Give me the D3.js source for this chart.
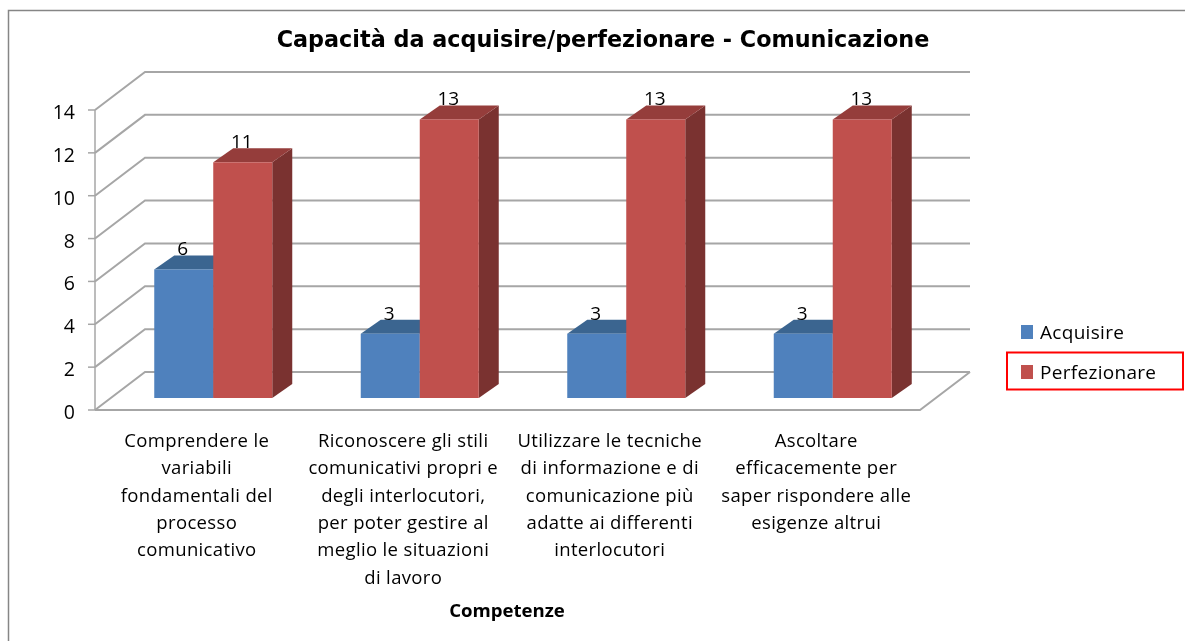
<!DOCTYPE html>
<html><head><meta charset="utf-8"><style>
html,body{margin:0;padding:0;background:#fff;overflow:hidden}
svg{display:block;filter:blur(0.45px)}
text{font-family:"Open Sans",sans-serif;fill:#000}
</style></head><body><svg id="c" width="1185" height="641"></svg>
<script src="https://cdn.jsdelivr.net/npm/d3@7"></script>
<script>
const categories=[
 ["Comprendere le","variabili","fondamentali del","processo","comunicativo"],
 ["Riconoscere gli stili","comunicativi propri e","degli interlocutori,","per poter gestire al","meglio le situazioni","di lavoro"],
 ["Utilizzare le tecniche","di informazione e di","comunicazione più","adatte ai differenti","interlocutori"],
 ["Ascoltare","efficacemente per","saper rispondere alle","esigenze altrui"]];
const seriesNames=["Acquisire","Perfezionare"];
const acquisire=[6,3,3,3];
const perfezionare=[11,13,13,13];
const yTicks=[0,2,4,6,8,10,12,14];
const colors=[["#4f81bd","#3b6590","#3b6590"],["#c0504d","#953d3b","#7a3230"]];
const title="Capacità da acquisire/perfezionare - Comunicazione";
const xTitle="Competenze";

const svg=d3.select("#c");
const y=d3.scaleLinear().domain([0,14]).range([410,110]);
const xi=d3.scaleBand().domain(d3.range(4)).range([110,936]);
const inner=d3.scaleBand().domain([0,1]).range([0,118]);
const wall={dx:50,dy:-38}, left=95,right=920;
const barPlane={dx:15,dy:-12}, depth={dx:20,dy:-14};
const grid="#a6a6a6";

svg.append("rect").attr("x",8.5).attr("y",10.5).attr("width",1200).attr("height",660)
  .attr("fill","#fff").attr("stroke","#868686").attr("stroke-width",1.5);
svg.append("text").attr("x",603).attr("y",47).attr("text-anchor","middle")
  .style("font-family","DejaVu Sans").style("font-weight","bold").style("font-size","22.3px").text(title);

yTicks.forEach(t=>{
  const yy=y(t);
  svg.append("path").attr("fill","none").attr("stroke",grid).attr("stroke-width",2)
    .attr("d",d3.line()([[left,yy],[left+wall.dx,yy+wall.dy],[right+wall.dx,yy+wall.dy]]));
  svg.append("line").attr("x1",left-7).attr("x2",left).attr("y1",yy).attr("y2",yy).attr("stroke",grid).attr("stroke-width",1.5);
  svg.append("text").attr("x",75).attr("y",yy+9).attr("text-anchor","end").style("font-size","19.5px").text(t);
});
svg.append("line").attr("x1",left).attr("x2",left).attr("y1",y(0)).attr("y2",y(14)).attr("stroke",grid).attr("stroke-width",1.5);
svg.append("path").attr("fill","none").attr("stroke",grid).attr("stroke-width",2)
  .attr("d",d3.line()([[left,y(0)],[right,y(0)],[right+wall.dx,y(0)+wall.dy]]));

[acquisire,perfezionare].forEach((vals,s)=>{
  vals.forEach((v,i)=>{
    const x0=xi(i)+xi.bandwidth()/2-59+inner(s), w=inner.bandwidth();
    const top=y(v)+barPlane.dy, base=y(0)+barPlane.dy;
    const g=svg.append("g");
    const line=d3.line();
    g.append("path").attr("fill",colors[s][2]).attr("d",line([[x0+w,top],[x0+w+depth.dx,top+depth.dy],[x0+w+depth.dx,base+depth.dy],[x0+w,base]])+"Z");
    g.append("path").attr("fill",colors[s][1]).attr("d",line([[x0,top],[x0+depth.dx,top+depth.dy],[x0+w+depth.dx,top+depth.dy],[x0+w,top]])+"Z");
    g.append("rect").attr("x",x0).attr("y",top).attr("width",w).attr("height",base-top).attr("fill",colors[s][0]);
  });
});
[acquisire,perfezionare].forEach((vals,s)=>{
  vals.forEach((v,i)=>{
    const x0=xi(i)+xi.bandwidth()/2-59+inner(s), w=inner.bandwidth();
    svg.append("text").attr("x",x0+w/2-1).attr("y",y(v)+barPlane.dy-14).attr("text-anchor","middle").style("font-size","19px").text(v);
  });
});

categories.forEach((lines,i)=>{
  const cx=xi(i)+xi.bandwidth()/2-16.5;
  lines.forEach((l,k)=>{
    svg.append("text").attr("x",cx).attr("y",447+k*27.3).attr("text-anchor","middle").style("font-size","18.5px").style("letter-spacing","0.35px").text(l);
  });
});
svg.append("text").attr("x",507).attr("y",617).attr("text-anchor","middle").style("font-weight","bold").style("font-size","18.6px").text(xTitle);

const ly=[332,372];
seriesNames.forEach((n,s)=>{
  svg.append("rect").attr("x",1021).attr("y",ly[s]-7).attr("width",12).attr("height",14).attr("fill",colors[s][0]);
  svg.append("text").attr("x",1040).attr("y",ly[s]+7).style("font-size","19px").style("letter-spacing","0.3px").text(n);
});
svg.append("rect").attr("x",1007).attr("y",352.5).attr("width",176).attr("height",37).attr("fill","none").attr("stroke","#f00").attr("stroke-width",2);
</script></body></html>
